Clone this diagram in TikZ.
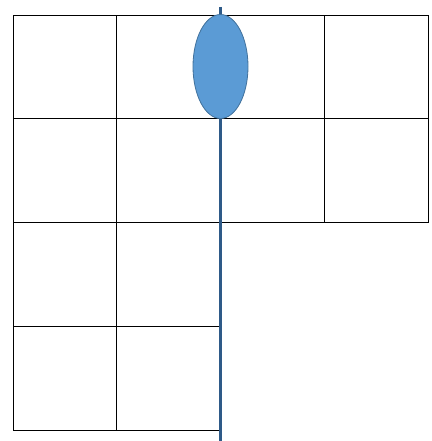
\documentclass[tikz,border=0pt]{standalone}
\usepackage{tikz}
\usetikzlibrary{positioning,shapes.geometric}
\definecolor{blobfill}{HTML}{5B9BD5}
\definecolor{blobedge}{HTML}{41719C}
\definecolor{axisblue}{HTML}{2E5A88}

\begin{document}
\begin{tikzpicture}[
    x=1pt, y=-1pt,
    cell/.style={draw, line width=0.9pt, minimum width=103.75pt, minimum height=103.75pt, inner sep=0pt, outer sep=0pt},
    blob/.style={ellipse, draw=blobedge, fill=blobfill, line width=0.8pt, minimum width=55pt, minimum height=104pt, inner sep=0pt},
    axis/.style={draw=axisblue, line width=2.6pt}
]
\useasboundingbox (0,0) rectangle (431,441);
% left two columns, four rows
\foreach \c in {0,1}
  \foreach \r in {0,...,3}
    \node[cell] (c\c r\r) at (64.875+103.75*\c, 66.875+103.75*\r) {};
% right two columns, top two rows
\foreach \c in {2,3}
  \foreach \r in {0,1}
    \node[cell] (c\c r\r) at (64.875+103.75*\c, 66.875+103.75*\r) {};
\coordinate (top) at (220.5,7);
\coordinate (bottom) at (220.5,441);
\draw[axis] (top) -- (bottom);
\node[blob] (drop) at (220.5,66.5) {};
\end{tikzpicture}
\end{document}
